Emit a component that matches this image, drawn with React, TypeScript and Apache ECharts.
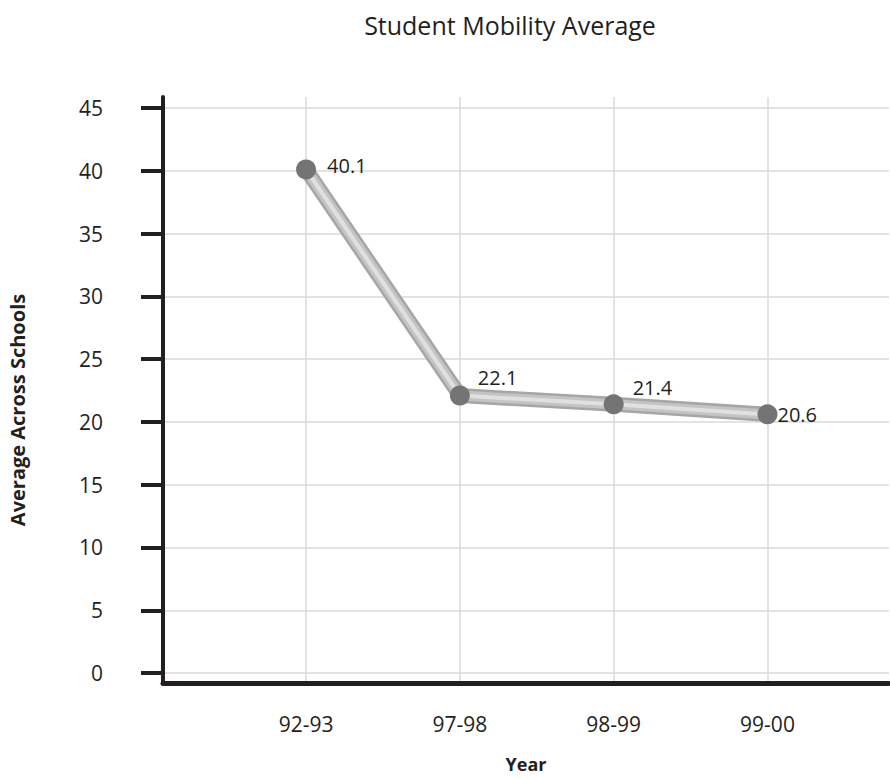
import React, { useEffect, useRef } from "react";
import * as echarts from "echarts";

// School years on the horizontal axis
const categories = ["92-93", "97-98", "98-99", "99-00"];
// Average student mobility across schools, per year
const mobility = [40.1, 22.1, 21.4, 20.6];
// Value-axis tick positions
const yTicks = [0, 5, 10, 15, 20, 25, 30, 35, 40, 45];
const xTicks = categories.map((_, i) => i);

const INK = "#231f20";
const FONT = "'Open Sans', Lato, sans-serif";

export default function App() {
  const ref = useRef<HTMLDivElement>(null);

  useEffect(() => {
    if (!ref.current) return;
    document.body.style.margin = "0";
    const chart = echarts.init(ref.current, undefined, { renderer: "svg" });

    const points = mobility.map((v, i) => [i, v]);
    // pixel nudges for each point's value tag
    const labelNudge = [
      [5, -4],
      [2, -18],
      [3, -17],
      [-6, 0],
    ];

    // layered strokes give the connecting line a rounded, tube-like shading
    const tube = (width: number, color: string, z: number) => ({
      type: "line",
      data: points,
      symbol: "none",
      z,
      silent: true,
      lineStyle: { width, color, cap: "round", join: "round" },
    });

    chart.setOption({
      animation: false,
      backgroundColor: "#ffffff",
      textStyle: { fontFamily: FONT, color: INK },
      title: {
        text: "Student Mobility Average",
        left: 505,
        top: 7,
        textAlign: "center",
        textStyle: { fontFamily: FONT, fontSize: 25, fontWeight: "normal", color: INK },
      },
      grid: { left: 163, right: 1, top: 97, bottom: 88, containLabel: false },
      xAxis: {
        type: "value",
        min: -0.93,
        max: 3.79,
        name: "Year",
        nameLocation: "middle",
        nameGap: 72,
        nameTextStyle: { fontFamily: FONT, fontSize: 18, fontWeight: "bold", color: INK },
        axisLine: { show: true, onZero: false, lineStyle: { color: INK, width: 5 } },
        axisTick: { show: false, customValues: xTicks },
        axisLabel: {
          customValues: xTicks,
          formatter: (v: number) => categories[Math.round(v)] ?? "",
          margin: 30,
          fontSize: 21,
          color: INK,
          fontFamily: FONT,
        },
        splitLine: { show: true, lineStyle: { color: "#dadada", width: 1.5 } },
      },
      yAxis: {
        type: "value",
        min: -0.79,
        max: 45.87,
        axisLine: { show: true, onZero: false, lineStyle: { color: INK, width: 4 } },
        axisTick: {
          show: true,
          customValues: yTicks,
          length: 22,
          lineStyle: { color: INK, width: 4 },
        },
        axisLabel: {
          customValues: yTicks,
          margin: 60,
          fontSize: 21,
          color: INK,
          fontFamily: FONT,
        },
        splitLine: { show: true, lineStyle: { color: "#dadada", width: 1.5 } },
      },
      graphic: [
        {
          type: "text",
          x: 17,
          y: 410,
          rotation: Math.PI / 2,
          style: {
            text: "Average Across Schools",
            fontFamily: FONT,
            fontSize: 20,
            fontWeight: "bold",
            fill: INK,
            textAlign: "center",
            textVerticalAlign: "middle",
          },
        },
      ],
      series: [
        tube(15, "#a6a6a6", 2),
        tube(10, "#c4c4c4", 3),
        tube(4, "#e0e0e0", 4),
        {
          type: "line",
          data: points.map((p, i) => ({
            value: p,
            label: { offset: labelNudge[i] },
          })),
          z: 5,
          symbol: "circle",
          symbolSize: 20,
          itemStyle: { color: "#747474" },
          lineStyle: { width: 0, opacity: 0 },
          label: {
            show: true,
            position: "right",
            distance: 6,
            fontSize: 20,
            color: INK,
            fontFamily: FONT,
            formatter: (p: any) => String(p.value[1]),
          },
        },
      ],
    });

    return () => chart.dispose();
  }, []);

  return (
    <div
      ref={ref}
      style={{ position: "absolute", left: 0, top: 0, width: 890, height: 778 }}
    />
  );
}
